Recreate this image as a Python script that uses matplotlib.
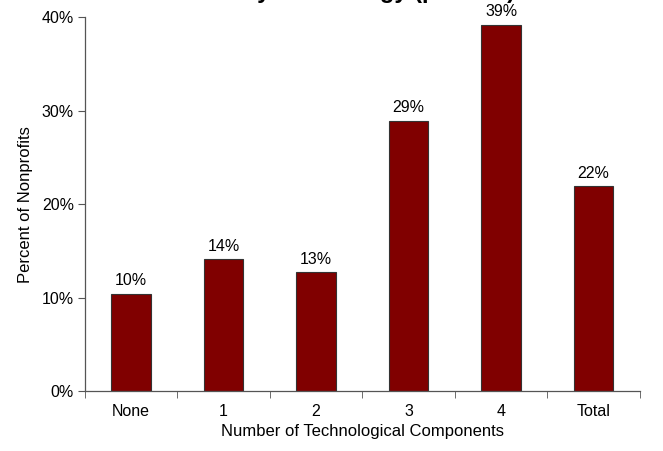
import numpy as np
import matplotlib.pyplot as plt
from matplotlib.ticker import FuncFormatter, FixedLocator

plt.rcParams['font.family'] = ['Liberation Sans', 'DejaVu Sans']

# ========== data ==========
categories = ["None", "1", "2", "3", "4", "Total"]
pct_values = [10.4, 14.1, 12.7, 28.9, 39.2, 21.9]
value_labels = ["10%", "14%", "13%", "29%", "39%", "22%"]
y_ticks = [0, 10, 20, 30, 40]

# ========== figure ==========
fig = plt.figure(figsize=(6.63, 4.51), dpi=100)
ax = fig.add_axes([0.128, 0.133, 0.837, 0.829])

x = np.arange(len(categories))
bars = ax.bar(x, pct_values, width=0.43, color="#800000",
              edgecolor="#333333", linewidth=0.8, zorder=2)

for rect, lab in zip(bars, value_labels):
    ax.annotate(lab, (rect.get_x() + rect.get_width() / 2, rect.get_height()),
                xytext=(0, 4), textcoords="offset points",
                ha="center", va="bottom", fontsize=11.5)

ax.set_xlim(-0.5, len(categories) - 0.5)
ax.set_ylim(0, 40)
ax.set_yticks(y_ticks)
ax.yaxis.set_major_formatter(FuncFormatter(lambda v, p: f"{v:.0f}%"))

# labels centred, tick marks between categories
ax.set_xticks(x)
ax.set_xticklabels(categories)
ax.xaxis.set_minor_locator(FixedLocator(np.arange(-0.5, len(categories), 1.0)))
ax.tick_params(axis="x", which="major", length=0, pad=9, labelsize=11.5)
ax.tick_params(axis="x", which="minor", length=5, direction="out", color="#555555")
ax.tick_params(axis="y", length=5, direction="out", color="#555555", labelsize=11.5, pad=3)

for side in ("top", "right"):
    ax.spines[side].set_visible(False)
for side in ("left", "bottom"):
    ax.spines[side].set_color("#555555")
    ax.spines[side].set_linewidth(0.9)

ax.set_xlabel("Number of Technological Components", fontsize=12, labelpad=4)
ax.set_ylabel("Percent of Nonprofits", fontsize=12, labelpad=6)

# title sits above the top edge, only its lowest strokes show
fig.text(0.57, 1 + 2.0 / 451, "By Technology (percent)", ha="center",
         va="baseline", fontsize=17, fontweight="bold")

fig.savefig("out.png", dpi=100)
